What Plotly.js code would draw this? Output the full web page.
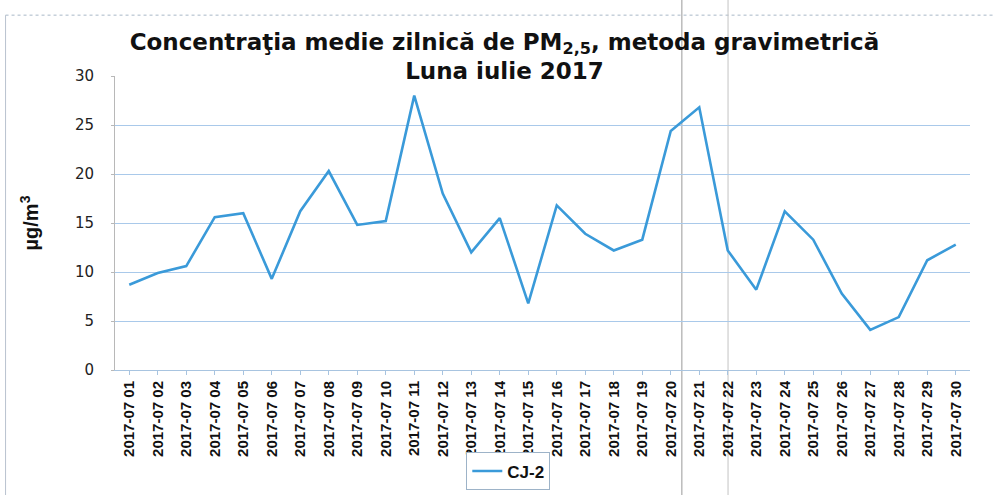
<!DOCTYPE html>
<html>
<head>
<meta charset="utf-8">
<script src="https://cdn.plot.ly/plotly-3.0.1.min.js"></script>
<style>html,body{margin:0;padding:0;background:#fff}#chart{width:995px;height:495px}</style>
</head>
<body>
<div id="chart"></div>
<script>
const days = ["2017-07 01","2017-07 02","2017-07 03","2017-07 04","2017-07 05","2017-07 06","2017-07 07","2017-07 08","2017-07 09","2017-07 10",
"2017-07 11","2017-07 12","2017-07 13","2017-07 14","2017-07 15","2017-07 16","2017-07 17","2017-07 18","2017-07 19","2017-07 20",
"2017-07 21","2017-07 22","2017-07 23","2017-07 24","2017-07 25","2017-07 26","2017-07 27","2017-07 28","2017-07 29","2017-07 30"];
const cj2 = [8.7,9.9,10.6,15.6,16.0,9.3,16.2,20.3,14.8,15.2,
28.0,18.0,12.0,15.5,6.8,16.8,13.9,12.2,13.3,24.4,
26.8,12.2,8.2,16.2,13.3,7.8,4.1,5.4,11.2,12.8];
const seriesName = "CJ-2";
const yTicks = [0,5,10,15,20,25,30];

const data = [{
  x: days, y: cj2, type: 'scatter', mode: 'lines', name: seriesName,
  line: {color: '#3a9ad9', width: 2.6}
}];
const layout = {
  width: 995, height: 495,
  margin: {l: 115, r: 25, t: 76, b: 125, autoexpand: false},
  paper_bgcolor: '#fff', plot_bgcolor: '#fff',
  title: {
    text: '<b>Concentraţia medie zilnică de PM<sub>2,5</sub>, metoda gravimetrică<br>Luna iulie 2017</b>',
    font: {family: 'DejaVu Sans, sans-serif', size: 23, color: '#111'},
    x: 0.507, xanchor: 'center', y: 0.90, yanchor: 'top', yref: 'container'
  },
  xaxis: {
    type: 'category', tickangle: -90, automargin: false,
    tickfont: {family: 'Liberation Sans Narrow, Liberation Sans, Arial, sans-serif', size: 15, color: '#111', weight: 'bold'},
    showgrid: false, showline: true, linecolor: '#a8c4e0', linewidth: 1,
    ticks: 'outside', ticklen: 4, tickcolor: '#a8c4e0',
    range: [-0.5, 29.5]
  },
  yaxis: {
    range: [0, 30], tickvals: yTicks, ticktext: yTicks.map(String), automargin: false,
    tickfont: {family: 'DejaVu Sans, sans-serif', size: 15, color: '#222'},
    showgrid: true, gridcolor: '#a9c9ea', gridwidth: 1,
    showline: true, linecolor: '#b8b8b8', linewidth: 1, zeroline: false,
    ticks: 'outside', ticklen: 3, tickcolor: '#b8b8b8', ticklabelstandoff: 14,
    title: {text: '<b>µg/m<sup>3</sup></b>', font: {family: 'Liberation Sans, Arial, sans-serif', size: 20, color: '#111'}, standoff: 30}
  },
  showlegend: true,
  legend: {
    orientation: 'h', x: 0.46, xanchor: 'center',
    y: -0.345, yanchor: 'middle',
    bordercolor: '#9db3c8', borderwidth: 1,
    font: {family: 'Liberation Sans, Arial, sans-serif', size: 17, color: '#111', weight: 'bold'}
  },
  shapes: [
    {type: 'line', xref: 'paper', yref: 'paper', x0: -0.128, x1: 1.03, y0: 1.207, y1: 1.207,
     line: {color: '#a9b8c8', width: 1, dash: 'dot'}, layer: 'below'},
    {type: 'line', xref: 'paper', yref: 'paper', x0: -0.128, x1: -0.128, y0: 1.207, y1: -0.43,
     line: {color: '#b9c3cf', width: 1}, layer: 'below'},
    {type: 'line', xref: 'paper', yref: 'paper', x0: 0.663, x1: 0.663, y0: 1.26, y1: -0.43,
     line: {color: '#9a9a9a', width: 1}, layer: 'below'},
    {type: 'line', xref: 'paper', yref: 'paper', x0: 0.717, x1: 0.717, y0: 1.26, y1: -0.43,
     line: {color: '#c4c4c4', width: 1}, layer: 'below'}
  ]
};
Plotly.newPlot('chart', data, layout, {displayModeBar: false, staticPlot: true});
</script>
</body>
</html>
